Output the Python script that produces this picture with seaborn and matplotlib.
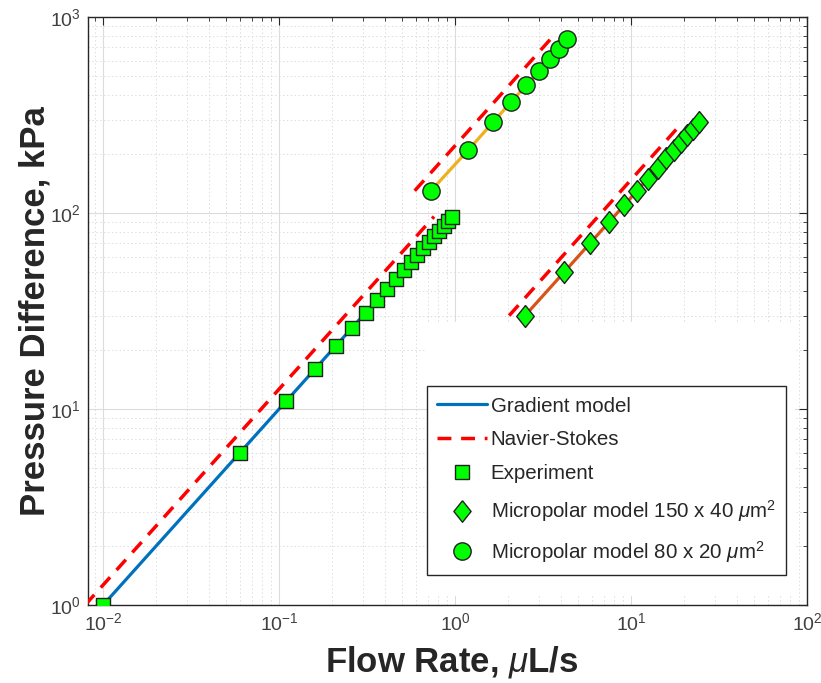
import matplotlib
matplotlib.use("Agg")
import matplotlib.pyplot as plt
from matplotlib.lines import Line2D
from matplotlib.patches import Rectangle
import seaborn as sns

# Experiment / gradient model (small channel)
exp_flow = [0.01, 0.06, 0.11, 0.16, 0.21, 0.26, 0.31, 0.36, 0.41, 0.46,
            0.51, 0.56, 0.61, 0.66, 0.71, 0.76, 0.81, 0.86, 0.91, 0.96]
exp_dp = [1, 6, 11, 16, 21, 26, 31, 36, 41, 46,
          51, 56, 61, 66, 71, 76, 81, 86, 91, 96]

# Micropolar model 80 x 20 um^2
mp80_flow = [0.73, 1.19, 1.64, 2.09, 2.54, 2.99, 3.45, 3.90, 4.35]
mp80_dp = [130, 210, 290, 370, 450, 530, 610, 690, 770]

# Micropolar model 150 x 40 um^2
mp150_flow = [2.5, 4.17, 5.83, 7.5, 9.17, 10.8, 12.5, 14.2, 15.8,
              17.5, 19.2, 20.8, 22.5, 24.2]
mp150_dp = [30, 50, 70, 90, 110, 130, 150, 170, 190,
            210, 230, 250, 270, 290]

# Navier-Stokes predictions (straight lines on log-log)
ns_small_flow = [0.0079, 0.76]
ns_small_dp = [1, 96]
ns80_flow = [0.59, 3.48]
ns80_dp = [130, 770]
ns150_flow = [2.03, 19.6]
ns150_dp = [30, 290]

legend_labels = ['Gradient model', 'Navier-Stokes', 'Experiment',
                 r'Micropolar model 150 x 40 $\mu$m$^2$',
                 r'Micropolar model 80 x 20 $\mu$m$^2$']

sns.set_theme(style="white")
plt.rcParams['font.family'] = ['Liberation Sans', 'DejaVu Sans']
plt.rcParams['mathtext.fontset'] = 'custom'
plt.rcParams['mathtext.rm'] = 'Liberation Sans'
plt.rcParams['mathtext.it'] = 'Liberation Sans:italic'
plt.rcParams['mathtext.bf'] = 'Liberation Sans:bold'

blue = '#0072BD'
orange = '#EDB120'
redorange = '#D95319'
green = '#00FF00'
edge = '#222222'
diamond = [(0, 1), (0.8, 0), (0, -1), (-0.8, 0), (0, 1)]

fig = plt.figure(figsize=(8.21, 6.83), dpi=100)
ax = fig.add_axes([0.107, 0.114, 0.876, 0.861])
ax.set_xscale('log')
ax.set_yscale('log')

# model lines
sns.lineplot(x=exp_flow, y=exp_dp, ax=ax, color=blue, lw=2.3, sort=False, estimator=None, zorder=2)
sns.lineplot(x=mp80_flow, y=mp80_dp, ax=ax, color=orange, lw=2.3, sort=False, estimator=None, zorder=2)
sns.lineplot(x=mp150_flow, y=mp150_dp, ax=ax, color=redorange, lw=2.3, sort=False, estimator=None, zorder=2)
for fx, fy in [(ns_small_flow, ns_small_dp), (ns80_flow, ns80_dp), (ns150_flow, ns150_dp)]:
    sns.lineplot(x=fx, y=fy, ax=ax, color='#FF0000', lw=2.5, sort=False, estimator=None,
                 linestyle=(0, (4, 2.8)), zorder=3)

# markers
sns.scatterplot(x=exp_flow, y=exp_dp, ax=ax, marker='s', s=95, color=green,
                edgecolor=edge, linewidth=1, zorder=5)
sns.scatterplot(x=mp80_flow, y=mp80_dp, ax=ax, marker='o', s=155, color=green,
                edgecolor=edge, linewidth=1, zorder=5)
sns.scatterplot(x=mp150_flow, y=mp150_dp, ax=ax, marker=diamond, s=250, color=green,
                edgecolor=edge, linewidth=1, zorder=5)

ax.set_xlim(0.0082, 100)
ax.set_ylim(1, 1000)

# grid
ax.set_axisbelow(True)
ax.grid(True, which='major', color='#dcdcdc', lw=0.8, ls='-')
ax.grid(True, which='minor', color='#dddddd', lw=0.7, ls=(0, (1.5, 2.5)))

# white area behind the legend (hides grid there)
ax.add_patch(Rectangle((0.4715, 0.016), 0.512, 0.465, transform=ax.transAxes,
                       facecolor='white', edgecolor='none', zorder=1))

ax.tick_params(which='both', direction='in', top=True, right=True,
               colors='#262626', labelcolor='#404040', labelsize=14)
ax.tick_params(which='major', length=6, width=0.8, pad=5)
ax.tick_params(which='minor', length=3, width=0.6)
for sp in ax.spines.values():
    sp.set_color('#262626')
    sp.set_linewidth(1.0)

ax.set_xlabel(r'Flow Rate, $\mu$L/s', fontsize=25, fontweight='bold', color='#262626')
ax.set_ylabel('Pressure Difference, kPa', fontsize=25, fontweight='bold', color='#262626')
ax.xaxis.set_label_coords(0.506, -0.066)
ax.yaxis.set_label_coords(-0.05, 0.5)

handles = [
    Line2D([], [], color=blue, lw=2.3),
    Line2D([], [], color='#FF0000', lw=2.5, ls=(0, (4, 2.8))),
    Line2D([], [], ls='none', marker='s', markersize=9.5, markerfacecolor=green, markeredgecolor=edge),
    Line2D([], [], ls='none', marker=diamond, markersize=15.5, markerfacecolor=green, markeredgecolor=edge),
    Line2D([], [], ls='none', marker='o', markersize=12.5, markerfacecolor=green, markeredgecolor=edge),
]
leg = ax.legend(handles, legend_labels, loc='upper left', bbox_to_anchor=(0.4715, 0.372),
                borderaxespad=0, fontsize=14.8, handlelength=2.4, handletextpad=0.2,
                labelspacing=0.72, borderpad=0.5, fancybox=False, framealpha=1,
                edgecolor='#262626')
leg.get_frame().set_linewidth(1.0)
for t in leg.get_texts():
    t.set_color('#262626')

fig.savefig('out.png', dpi=100)
